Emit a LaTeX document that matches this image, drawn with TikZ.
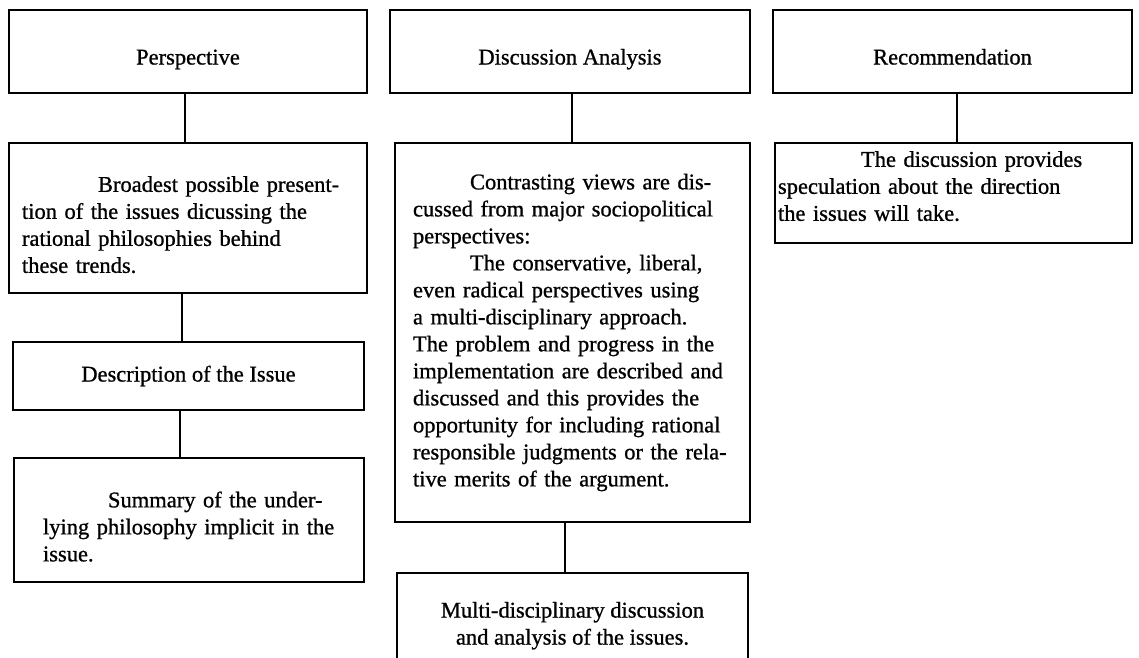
\documentclass[tikz,border=0pt]{standalone}
\usepackage{fontspec}
\setmainfont{Liberation Serif}[FakeBold=0.9]
\newcommand{\tline}[1]{\mbox{#1}}
\begin{document}
\begin{tikzpicture}[x=1pt,y=-1pt,
  box/.style={draw, line width=2.2pt, inner sep=0pt, font=\fontsize{22.5}{27}\selectfont},
  ctext/.style={box, align=center},
  head/.style={ctext, minimum height=83, text height=26pt, text depth=0pt},
  ltext/.style={box, align=left},
  link/.style={line width=2.2pt}]
\useasboundingbox (0,0) rectangle (1139,657);
\clip (0,0) rectangle (1139,657);
% left column
\node[head, minimum width=358] (persp) at (188,51.5) {Perspective};
\node[ltext, minimum width=358, minimum height=150, text width=332] (broad) at (188,218)
 {\rule{0pt}{29pt}\tline{\hspace*{76pt}Broadest possible present-}\\\tline{tion of the issues dicussing the}\\\tline{rational philosophies behind}\\\tline{these trends.}};
\node[ctext, minimum width=351, minimum height=68] (desc) at (188.5,376) {Description of the Issue};
\node[ltext, minimum width=350, minimum height=124, text width=292] (summ) at (189,520)
 {\rule{0pt}{29pt}\tline{\hspace*{65pt}Summary of the under-}\\\tline{lying philosophy implicit in the}\\\tline{issue.}};
% middle column
\node[head, minimum width=360] (da) at (570,51.5) {Discussion Analysis};
\node[ltext, minimum width=355, minimum height=379, text width=319] (contr) at (572.5,332.5)
 {\tline{\hspace*{57pt}Contrasting views are dis-}\\
  \tline{cussed from major sociopolitical}\\
  \tline{perspectives:}\\
  \tline{\hspace*{57pt}The conservative, liberal,}\\
  \tline{even radical perspectives using}\\
  \tline{a multi-disciplinary approach.}\\
  \tline{The problem and progress in the}\\
  \tline{implementation are described and}\\
  \tline{discussed and this provides the}\\
  \tline{opportunity for including rational}\\
  \tline{responsible judgments or the rela-}\\
  \tline{tive merits of the argument.}};
\node[ctext, minimum width=351, minimum height=94] (multi) at (572.5,620)
 {\rule{0pt}{27pt}Multi-disciplinary discussion\\and analysis of the issues.};
% right column
\node[head, minimum width=359] (rec) at (952.5,51.5) {Recommendation};
\node[ltext, minimum width=357, minimum height=100, text width=351] (spec) at (953.5,193)
 {\tline{\hspace*{83pt}The discussion provides}\\\tline{speculation about the direction}\\\tline{the issues will take.}\rule[-14pt]{0pt}{0pt}};
% connectors
\draw[link] (persp.south -| 185,0) -- (broad.north -| 185,0);
\draw[link] (broad.south -| 182,0) -- (desc.north -| 182,0);
\draw[link] (desc.south -| 180,0) -- (summ.north -| 180,0);
\draw[link] (da.south -| 572,0) -- (contr.north -| 572,0);
\draw[link] (contr.south -| 565,0) -- (multi.north -| 565,0);
\draw[link] (rec.south -| 957,0) -- (spec.north -| 957,0);
\end{tikzpicture}
\end{document}
